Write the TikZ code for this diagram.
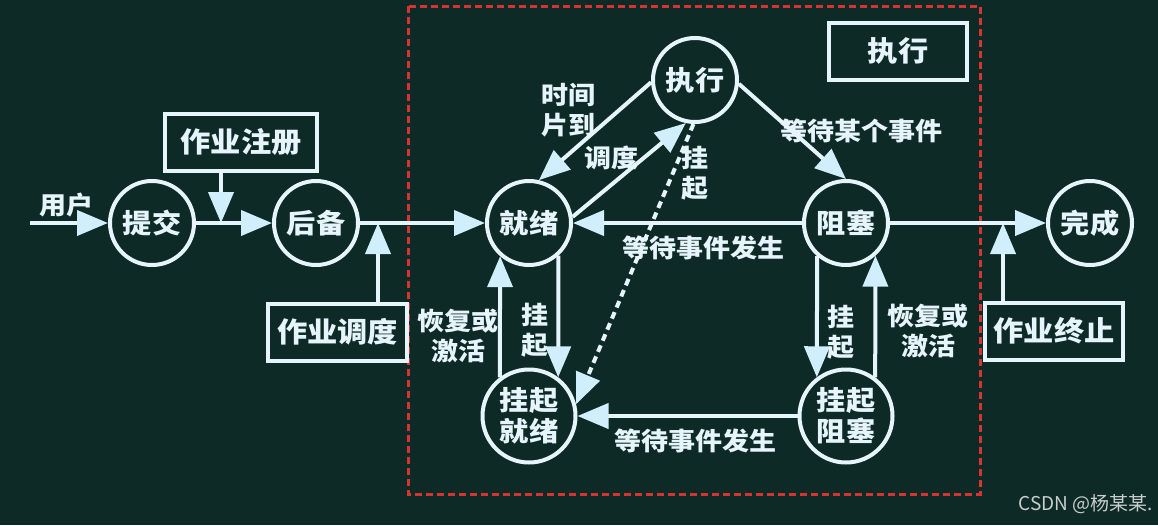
\documentclass[tikz,border=0pt]{standalone}
\usepackage{fontspec}
\newfontfamily\cjk[FakeStretch=1.08]{Noto Sans CJK SC}
\newfontfamily\wmfont{Noto Sans CJK SC}
\usetikzlibrary{arrows.meta}
\definecolor{bg}{RGB}{14,42,38}
\definecolor{fg}{RGB}{230,244,252}
\definecolor{tipc}{RGB}{208,238,252}
\definecolor{redd}{RGB}{214,52,50}
\definecolor{wmark}{RGB}{200,206,206}
\begin{document}
\begin{tikzpicture}[x=1pt,y=-1pt,
  state/.style={circle, draw=fg, line width=4pt, minimum size=84pt, inner sep=0pt,
    text=fg, font=\cjk\bfseries\fontsize{27}{31}\selectfont},
  state2/.style={state, minimum size=93pt, align=center},
  box/.style={draw=fg, line width=4pt, text=fg, minimum height=57pt, inner sep=0pt,
    font=\cjk\bfseries\fontsize{28}{30}\selectfont},
  lab/.style={text=fg, font=\cjk\bfseries\fontsize{25}{30}\selectfont, align=center, inner sep=0pt},
  arr/.style={draw=fg, line width=4pt, -{Triangle[length=31pt,width=25pt,color=tipc]}},
  dasharr/.style={arr, dash pattern=on 7pt off 5pt},
  frame/.style={draw=redd, line width=3pt, dash pattern=on 7pt off 4pt}
]
\fill[bg] (0,0) rectangle (1158,525);
\useasboundingbox (0,0) rectangle (1158,525);

% red dashed frame
\draw[frame] (408,6) rectangle (980,494);

% states
\node[state] (tj) at (152,223) {提交};
\node[state] (hb) at (316,223) {后备};
\node[state] (jx) at (529,223) {就绪};
\node[state] (zx) at (695,80) {执行};
\node[state] (zs) at (846,223) {阻塞};
\node[state] (wc) at (1090,223) {完成};
\node[state2] (gj) at (529,416) {挂起\\就绪};
\node[state2] (gz) at (846,416) {挂起\\阻塞};

% boxes
\node[box, minimum width=152pt] (reg) at (241,142) {作业注册};
\node[box, minimum width=139pt] (sch) at (337.5,332) {作业调度};
\node[box, minimum width=138pt] (trm) at (1054,331) {作业终止};
\node[box, minimum width=138pt] (zxbox) at (898,51) {执行};

% junctions
\coordinate (u) at (30,223);
\coordinate (j1) at (221,223);
\coordinate (j2) at (378,223);
\coordinate (j3) at (1003,223);

% labels
\node[lab] (lu) at (66,205) {用户};
\node[lab] (l1) at (568,110) {时间\\片到};
\node[lab] (l2) at (611,158) {调度};
\node[lab] (l3) at (695,173) {挂\\起};
\node[lab] (l4) at (861,131) {等待某个事件};
\node[lab] (l5) at (703,248) {等待事件发生};
\node[lab] (l6) at (695,441) {等待事件发生};
\node[lab] (l7) at (458,336) {恢复或\\激活};
\node[lab] (l8) at (535,330) {挂\\起};
\node[lab] (l9) at (841,332) {挂\\起};
\node[lab] (l10) at (928,331) {恢复或\\激活};

% connectors
\draw[arr] (u) -- (tj);
\draw[arr] (tj) -- (hb);
\draw[arr] (reg.south -| j1) -- (j1);
\draw[arr] (hb) -- (jx);
\draw[arr] (sch.north -| j2) -- (j2);
\draw[arr] (zx.183) -- (jx.77);
\draw[arr] (jx.8) -- (zx.258);
\draw[arr] (zx.-5) -- (zs.90);
\draw[arr] (zs) -- (jx);
\draw[arr] (zs) -- (wc);
\draw[arr] (trm.north -| j3) -- (j3);
\draw[arr] (jx.-48.2) -- (gj.53);
\draw[arr] (gj.127) -- (jx.-131.8);
\draw[arr] (zs.-131.8) -- (gz.127);
\draw[arr] (gz.53) -- (zs.-48.2);
\draw[arr] (gz) -- (gj);
\draw[dasharr] (zx.268) -- (gj.14);

% watermark
\node[font=\wmfont\fontsize{19}{20}\selectfont, text=wmark, anchor=east, inner sep=0pt] (wm) at (1153,504) {CSDN @杨某某.};
\end{tikzpicture}
\end{document}
